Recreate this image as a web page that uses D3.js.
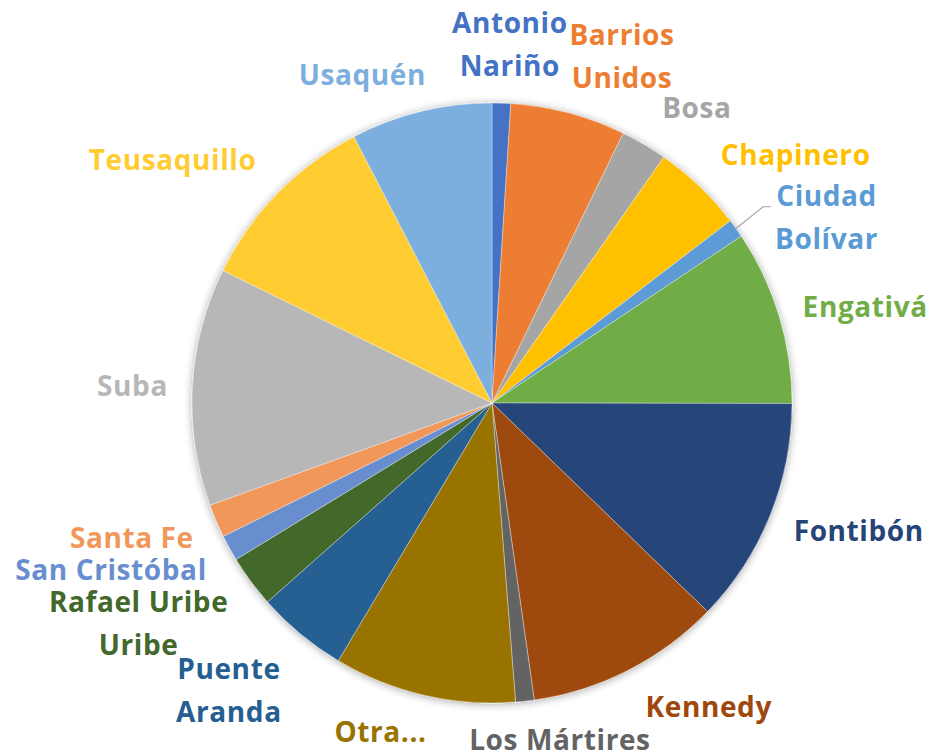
<!DOCTYPE html>
<html>
<head>
<meta charset="utf-8">
<script src="https://cdn.jsdelivr.net/npm/d3@7"></script>
<style>
html,body{margin:0;padding:0;background:#fff;}
svg{display:block;}
text{font-family:"Open Sans","Noto Sans",sans-serif;font-weight:700;letter-spacing:0.6px;}
</style>
</head>
<body>
<svg id="chart" width="932" height="755"></svg>
<script>
// ---- data ----
const categories = ["Antonio Nariño","Barrios Unidos","Bosa","Chapinero","Ciudad Bolívar","Engativá","Fontibón","Kennedy","Los Mártires","Otra...","Puente Aranda","Rafael Uribe Uribe","San Cristóbal","Santa Fe","Suba","Teusaquillo","Usaquén"];
const values = [1.0, 6.2, 2.5, 4.9, 1.0, 9.4, 12.2, 10.5, 1.0, 9.8, 4.9, 2.8, 1.4, 1.8, 12.8, 10.1, 7.6];
const labelLines = [["Antonio","Nariño"],["Barrios","Unidos"],["Bosa"],["Chapinero"],["Ciudad","Bolívar"],["Engativá"],["Fontibón"],["Kennedy"],["Los Mártires"],["Otra..."],["Puente","Aranda"],["Rafael Uribe","Uribe"],["San Cristóbal"],["Santa Fe"],["Suba"],["Teusaquillo"],["Usaquén"]];
const colors = ["#4472C4","#ED7D31","#A5A5A5","#FFC000","#5B9BD5","#70AD47","#264478","#9E480E","#636363","#997300","#255E91","#43682B","#698ED0","#F1975A","#B7B7B7","#FFCD33","#7CAFDD"];
// label placement nudges relative to the polar anchor
const labelNudge = [[7,-11],[42,-10],[30,5],[65,4],[54,18],[43,7],[47,1],[60,0],[30,-3],[-33,-4],[-43,25],[-76,18],[-79,3],[-43,2],[-15,5],[-73,1],[-48,10]];
const leaderFor = ["Ciudad Bolívar"];

// ---- layout ----
const cx = 492, cy = 403, r = 300, labelR = 345, lineH = 43, fontSize = 28;
const svg = d3.select("#chart");
const defs = svg.append("defs");
const f = defs.append("filter").attr("id","shadow").attr("x","-20%").attr("y","-20%").attr("width","140%").attr("height","140%");
f.append("feGaussianBlur").attr("in","SourceAlpha").attr("stdDeviation",4).attr("result","b");
f.append("feOffset").attr("in","b").attr("dx",0).attr("dy",1).attr("result","o");
f.append("feComponentTransfer").attr("in","o").attr("result","s").append("feFuncA").attr("type","linear").attr("slope",0.35);
const m = f.append("feMerge"); m.append("feMergeNode").attr("in","s"); m.append("feMergeNode").attr("in","SourceGraphic");

const data = categories.map((c,i)=>({name:c, value:values[i], color:colors[i], lines:labelLines[i], nudge:labelNudge[i]}));
const pie = d3.pie().value(d=>d.value).sort(null);
const arcs = pie(data);
const arc = d3.arc().innerRadius(0).outerRadius(r);

const g = svg.append("g").attr("transform",`translate(${cx},${cy})`);
const pg = g.append("g").attr("filter","url(#shadow)");
pg.selectAll("path").data(arcs).join("path")
  .attr("d",arc).attr("fill",d=>d.data.color)
  .attr("stroke","#fff").attr("stroke-width",0.6).attr("stroke-opacity",0.6);

const lg = g.append("g");
arcs.forEach(a=>{
  const mid = (a.startAngle+a.endAngle)/2;
  const px = labelR*Math.sin(mid) + a.data.nudge[0];
  const py = -labelR*Math.cos(mid) + a.data.nudge[1];
  const n = a.data.lines.length;
  const firstBase = py + 7 - (n-1)*lineH/2;
  const t = lg.append("text").attr("text-anchor","middle").attr("fill",a.data.color).style("font-size",fontSize+"px");
  a.data.lines.forEach((ln,j)=>{
    t.append("tspan").attr("x",px).attr("y",firstBase + j*lineH).text(ln);
  });
  if(leaderFor.includes(a.data.name)){
    const bb = t.node().getBBox();
    const ax = r*Math.sin(mid), ay = -r*Math.cos(mid);
    const lx = bb.x - 4, ly = firstBase + 1;
    lg.append("polyline").attr("points",[[ax,ay],[lx-8,ly],[lx,ly]].map(p=>p.join(",")).join(" "))
      .attr("fill","none").attr("stroke","#A6A6A6").attr("stroke-width",1.2);
  }
});
</script>
</body>
</html>
